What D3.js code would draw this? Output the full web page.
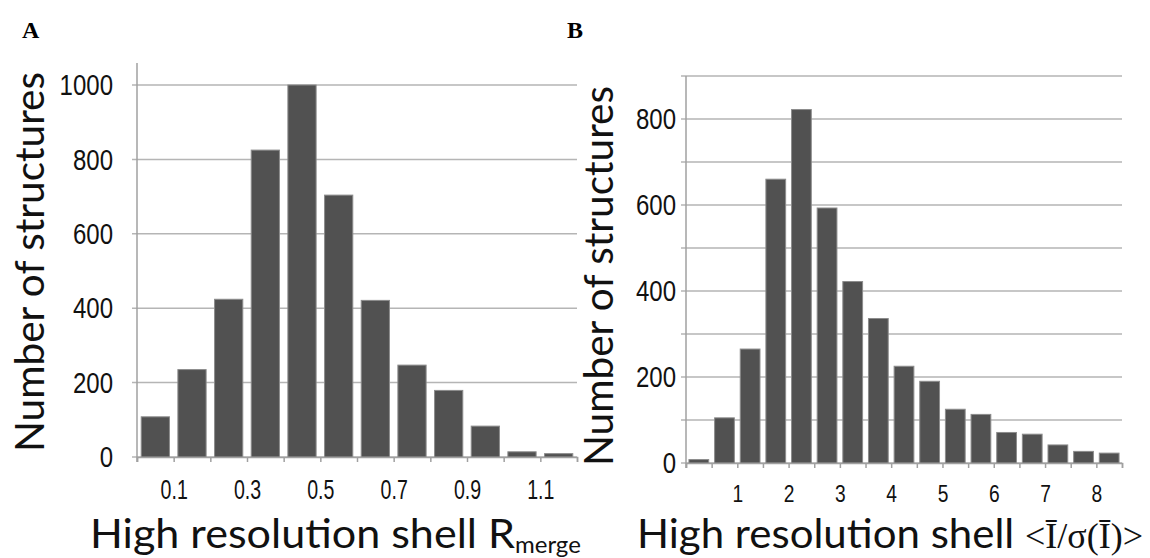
<!DOCTYPE html>
<html>
<head>
<meta charset="utf-8">
<script src="https://cdn.jsdelivr.net/npm/d3@7"></script>
<style>
  body { margin: 0; background: #fff; }
  svg { display: block; }
  .num { font-family: 'Liberation Sans', Arial, sans-serif; fill: #111; }
  .title { font-family: Lato, 'Open Sans', sans-serif; fill: #111; }
  .panel { font-family: 'Liberation Serif', serif; font-weight: bold; fill: #000; }
</style>
</head>
<body>
<div id="chart"></div>
<script>
// panel A: high resolution shell Rmerge
const rmergeBins = [0.0, 0.1, 0.2, 0.3, 0.4, 0.5, 0.6, 0.7, 0.8, 0.9, 1.0, 1.1]
const rmergeCounts = [108, 235, 424, 825, 1000, 704, 421, 247, 179, 83, 14, 9]
const rmergeTickValues = [0.1, 0.3, 0.5, 0.7, 0.9, 1.1]
const rmergeYTicks = [0, 200, 400, 600, 800, 1000]

// panel B: high resolution shell <I/sigma(I)>
const isigBins = [0, 0.5, 1, 1.5, 2, 2.5, 3, 3.5, 4, 4.5, 5, 5.5, 6, 6.5, 7, 7.5, 8]
const isigCounts = [8, 105, 265, 660, 822, 593, 422, 336, 225, 190, 125, 113, 71, 67, 42, 27, 23]
const isigTickValues = [1, 2, 3, 4, 5, 6, 7, 8]
const isigYTicks = [0, 200, 400, 600, 800]
const isigGrid = [0, 100, 200, 300, 400, 500, 600, 700, 800, 900]

const width = 1150
const height = 558

const svg = d3
  .select('#chart')
  .append('svg')
  .attr('width', width)
  .attr('height', height)

const drawPanel = (p) => {
  const g = svg.append('g')
  const binW = p.bins[1] - p.bins[0]
  const edges = p.bins.concat([p.bins[p.bins.length - 1] + binW])

  const x = d3.scaleLinear().domain([edges[0], edges[edges.length - 1]]).range([p.left, p.right])
  const xBand = d3
    .scaleBand()
    .domain(p.bins)
    .range([p.left, p.right])
    .paddingInner(0.23)
    .paddingOuter(0.115)
  const y = d3.scaleLinear().domain([0, p.yMax]).range([p.bottom, p.top])

  // gridlines
  g.selectAll('line.grid')
    .data(p.grid)
    .join('line')
    .attr('class', 'grid')
    .attr('x1', p.left - 5)
    .attr('x2', p.right)
    .attr('y1', (d) => y(d))
    .attr('y2', (d) => y(d))
    .attr('stroke', '#b5b5b5')
    .attr('stroke-width', 1.5)

  // y axis line
  g.append('line')
    .attr('x1', p.left)
    .attr('x2', p.left)
    .attr('y1', p.axisTop)
    .attr('y2', p.bottom + 5)
    .attr('stroke', '#a0a0a0')
    .attr('stroke-width', 1.5)

  // bars
  g.selectAll('rect')
    .data(p.counts)
    .join('rect')
    .attr('x', (d, i) => xBand(p.bins[i]))
    .attr('width', xBand.bandwidth())
    .attr('y', (d) => y(d))
    .attr('height', (d) => y(0) - y(d))
    .attr('fill', '#515151')
    .attr('stroke', '#8c8c8c')
    .attr('stroke-width', 1)

  // x tick marks
  const xTicks = g
    .append('g')
    .attr('transform', `translate(0,${p.bottom})`)
    .call(d3.axisBottom(x).tickValues(edges).tickSize(5).tickFormat(''))
  xTicks.select('.domain').attr('stroke', '#a0a0a0').attr('stroke-width', 1.5)
  xTicks.selectAll('.tick line').attr('stroke', '#a0a0a0').attr('stroke-width', 1.5)

  // x tick labels (condensed like the original narrow font)
  const xLabels = g
    .append('g')
    .attr('transform', `translate(0,${p.bottom})`)
    .call(d3.axisBottom(x).tickValues(p.tickValues).tickSize(0).tickFormat(d3.format(p.xFormat)))
  xLabels.select('.domain').remove()
  xLabels
    .selectAll('text')
    .attr('class', 'num')
    .attr('y', 0)
    .attr('transform', `translate(0,${p.xLabelPad}) scale(${p.xLabelSquash},1)`)
    .style('font-size', p.xLabelSize + 'px')
    .attr('fill', '#111')

  // y tick labels
  const yLabels = g
    .append('g')
    .attr('transform', `translate(${p.left},0)`)
    .call(d3.axisLeft(y).tickValues(p.yTicks).tickSize(0).tickFormat(d3.format('d')))
  yLabels.select('.domain').remove()
  yLabels
    .selectAll('text')
    .attr('class', 'num')
    .attr('x', 0)
    .attr('transform', `translate(${-p.yLabelPad},0) scale(0.8,1)`)
    .style('font-size', '30px')
    .attr('fill', '#111')

  // y title
  g.append('text')
    .attr('class', 'title')
    .attr('transform', `translate(${p.yTitleX},${p.yTitleY}) rotate(-90)`)
    .attr('text-anchor', 'middle')
    .style('font-size', '40px')
    .attr('textLength', 380)
    .attr('lengthAdjust', 'spacingAndGlyphs')
    .text('Number of structures')

  // panel letter
  g.append('text')
    .attr('class', 'panel')
    .attr('x', p.letterX)
    .attr('y', 38)
    .style('font-size', '24px')
    .text(p.letter)

  return g
}

const gA = drawPanel({
  letter: 'A',
  letterX: 22,
  bins: rmergeBins,
  counts: rmergeCounts,
  tickValues: rmergeTickValues,
  xFormat: '.1f',
  yTicks: rmergeYTicks,
  grid: rmergeYTicks,
  yMax: 1000,
  left: 137,
  right: 577,
  top: 85,
  bottom: 457,
  axisTop: 63,
  xLabelPad: 22,
  xLabelSize: 28,
  xLabelSquash: 0.7,
  yLabelPad: 24,
  yTitleX: 44,
  yTitleY: 262,
})

const gB = drawPanel({
  letter: 'B',
  letterX: 567,
  bins: isigBins,
  counts: isigCounts,
  tickValues: isigTickValues,
  xFormat: 'd',
  yTicks: isigYTicks,
  grid: isigGrid,
  yMax: 900,
  left: 686,
  right: 1122,
  top: 76,
  bottom: 463,
  axisTop: 76,
  xLabelPad: 22,
  xLabelSize: 24,
  xLabelSquash: 0.8,
  yLabelPad: 10,
  yTitleX: 613,
  yTitleY: 276,
})

// x titles
const titleA = gA
  .append('text')
  .attr('class', 'title')
  .attr('x', 90)
  .attr('y', 548)
  .style('font-size', '40px')
titleA.append('tspan').attr('textLength', 425).attr('lengthAdjust', 'spacingAndGlyphs').text('High resolution shell R')
titleA.append('tspan').attr('dy', 5).style('font-size', '24px').text('merge')

const titleB = gB
  .append('text')
  .attr('class', 'title')
  .attr('x', 637)
  .attr('y', 548)
  .style('font-size', '40px')
titleB.append('tspan').attr('textLength', 388).attr('lengthAdjust', 'spacingAndGlyphs').text('High resolution shell ')
titleB.append('tspan').style('font-family', "'Liberation Serif', serif").style('font-size', '36px').text('<Ī/σ(Ī)>')
</script>
</body>
</html>
